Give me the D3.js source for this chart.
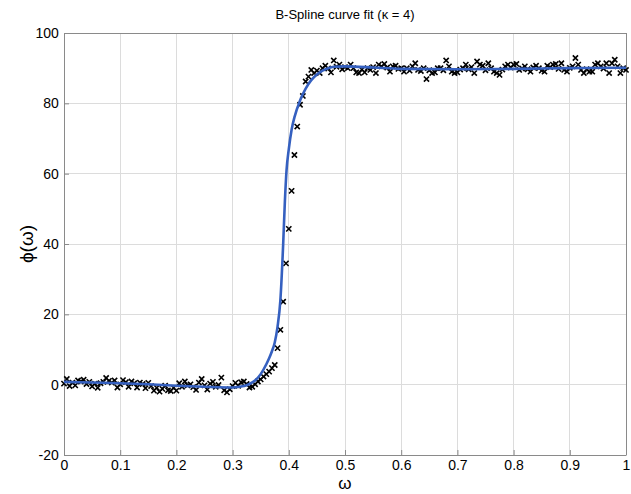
<!DOCTYPE html>
<html>
<head>
<meta charset="utf-8">
<script src="https://cdn.jsdelivr.net/npm/d3@7"></script>
<style>
  html, body { margin: 0; padding: 0; background: #fff; }
  svg { display: block; }
  text { font-family: "Liberation Sans", Arial, Helvetica, sans-serif; fill: #000; }
</style>
</head>
<body>
<svg id="chart" width="631" height="494"></svg>
<script>
// ---- data ----
const title = "B-Spline curve fit (\u03BA = 4)";
const xLabel = "\u03C9";
const yLabel = "\u03D5(\u03C9)";
const xTicks = [0, 0.1, 0.2, 0.3, 0.4, 0.5, 0.6, 0.7, 0.8, 0.9, 1];
const xTickLabels = ["0", "0.1", "0.2", "0.3", "0.4", "0.5", "0.6", "0.7", "0.8", "0.9", "1"];
const yTicks = [-20, 0, 20, 40, 60, 80, 100];
const yTickLabels = ["-20", "0", "20", "40", "60", "80", "100"];

const dataOmega = [
0.000,0.005,0.010,0.015,0.020,0.025,0.030,0.035,0.040,0.045,
0.050,0.055,0.060,0.065,0.070,0.075,0.080,0.085,0.090,0.095,
0.100,0.105,0.110,0.115,0.120,0.125,0.130,0.135,0.140,0.145,
0.150,0.155,0.160,0.165,0.170,0.175,0.180,0.185,0.190,0.195,
0.200,0.205,0.210,0.215,0.220,0.225,0.230,0.235,0.240,0.245,
0.250,0.255,0.260,0.265,0.270,0.275,0.280,0.285,0.290,0.295,
0.300,0.305,0.310,0.315,0.320,0.325,0.330,0.335,0.340,0.345,
0.350,0.355,0.360,0.365,0.370,0.375,0.380,0.385,0.390,0.395,
0.400,0.405,0.410,0.415,0.420,0.425,0.430,0.435,0.440,0.445,
0.450,0.455,0.460,0.465,0.470,0.475,0.480,0.485,0.490,0.495,
0.500,0.505,0.510,0.515,0.520,0.525,0.530,0.535,0.540,0.545,
0.550,0.555,0.560,0.565,0.570,0.575,0.580,0.585,0.590,0.595,
0.600,0.605,0.610,0.615,0.620,0.625,0.630,0.635,0.640,0.645,
0.650,0.655,0.660,0.665,0.670,0.675,0.680,0.685,0.690,0.695,
0.700,0.705,0.710,0.715,0.720,0.725,0.730,0.735,0.740,0.745,
0.750,0.755,0.760,0.765,0.770,0.775,0.780,0.785,0.790,0.795,
0.800,0.805,0.810,0.815,0.820,0.825,0.830,0.835,0.840,0.845,
0.850,0.855,0.860,0.865,0.870,0.875,0.880,0.885,0.890,0.895,
0.900,0.905,0.910,0.915,0.920,0.925,0.930,0.935,0.940,0.945,
0.950,0.955,0.960,0.965,0.970,0.975,0.980,0.985,0.990,0.995,
1.000];

const dataPhi = [
0.3,1.6,-0.4,0.6,-0.2,1.2,0.9,1.4,0.2,0.8,
-0.5,0.3,-0.9,0.4,0.8,1.9,1.1,0.6,1.2,-0.8,
0.1,1.3,0.7,-0.6,0.9,0.4,-0.8,0.6,0.2,-1.0,
0.5,-0.4,-1.7,-0.9,-2.0,-1.2,-0.3,-1.6,-1.8,-0.9,
-1.7,0.4,-0.6,0.9,-0.2,0.1,-0.7,-1.5,0.6,1.6,
-0.2,-1.4,0.3,0.8,-0.6,-0.1,2.0,-1.6,-2.2,-1.3,
-0.4,0.5,-0.3,0.7,0.9,0.2,-0.8,-0.6,0.1,0.9,
1.5,2.3,3.0,3.7,4.7,5.6,10.4,15.6,23.6,34.5,
44.3,55.1,65.3,73.4,79.6,82.1,86.2,87.6,89.5,88.6,
89.3,88.6,90.0,90.7,89.9,88.8,92.2,90.4,91.0,89.7,
90.3,90.0,91.0,90.0,88.8,88.6,89.6,88.8,90.0,89.5,
90.3,88.6,91.0,90.5,91.2,90.2,89.0,90.5,90.7,89.8,
90.0,89.0,90.0,89.3,90.5,91.4,89.5,89.2,90.0,86.9,
89.4,88.6,88.8,90.0,90.0,89.4,92.2,90.5,89.0,88.6,
88.8,89.6,90.0,91.0,89.7,90.3,88.6,91.9,91.0,90.7,
89.4,91.4,90.0,89.0,88.6,88.1,89.6,90.5,91.0,90.2,
91.0,91.2,89.5,89.9,90.5,89.7,89.0,90.2,90.7,90.0,
89.3,89.0,90.7,90.3,91.0,91.2,89.8,91.4,89.5,89.0,
90.1,90.5,92.9,91.0,89.5,88.6,89.7,89.0,89.0,91.0,
91.4,90.5,89.9,91.4,88.6,91.4,92.4,90.5,88.6,90.0,
89.5];

const curveOmega = [0, 0.05, 0.1, 0.15, 0.2, 0.25, 0.3, 0.32, 0.33, 0.34, 0.35, 0.36, 0.365, 0.37, 0.375, 0.38, 0.385, 0.39, 0.393, 0.396, 0.4, 0.405, 0.41, 0.42, 0.43, 0.44, 0.45, 0.46, 0.47, 0.48, 0.5, 0.55, 0.6, 0.7, 0.8, 0.9, 1.0];
const curvePhi   = [0.8, 0.6, 0.4, 0.1, -0.3, -0.6, -0.8, -0.4, 0.2, 1.2, 3.0, 5.8, 7.5, 9.5, 12.0, 16.5, 24.0, 40.0, 52.0, 61.0, 67.0, 72.5, 76.0, 80.8, 84.2, 86.6, 88.2, 89.3, 90.0, 90.4, 90.5, 90.2, 89.8, 89.7, 89.8, 90.0, 90.1];

// ---- layout ----
const W = 631, H = 494;
const plot = { left: 64, right: 626, top: 33, bottom: 455 };

const svg = d3.select("#chart");
svg.append("rect").attr("width", W).attr("height", H).attr("fill", "#fff");

const x = d3.scaleLinear().domain([0, 1]).range([plot.left, plot.right]);
const y = d3.scaleLinear().domain([-20, 100]).range([plot.bottom, plot.top]);

// grid
const grid = svg.append("g");
grid.selectAll("line.gx").data(xTicks).enter().append("line")
  .attr("x1", d => x(d)).attr("x2", d => x(d))
  .attr("y1", plot.top).attr("y2", plot.bottom)
  .attr("stroke", "#dcdcdc").attr("stroke-width", 1).attr("shape-rendering", "crispEdges");
grid.selectAll("line.gy").data(yTicks).enter().append("line")
  .attr("x1", plot.left).attr("x2", plot.right)
  .attr("y1", d => y(d)).attr("y2", d => y(d))
  .attr("stroke", "#dcdcdc").attr("stroke-width", 1).attr("shape-rendering", "crispEdges");

// axes
const axisColor = "#8a8a8a";
const xAxis = d3.axisBottom(x).tickValues(xTicks)
  .tickFormat((d, i) => xTickLabels[i]).tickSizeInner(-5).tickSizeOuter(0).tickPadding(5);
const yAxis = d3.axisLeft(y).tickValues(yTicks)
  .tickFormat((d, i) => yTickLabels[i]).tickSizeInner(-5).tickSizeOuter(0).tickPadding(8);

const gx = svg.append("g").attr("transform", `translate(0,${plot.bottom})`).call(xAxis);
const gy = svg.append("g").attr("transform", `translate(${plot.left},0)`).call(yAxis);
[gx, gy].forEach(g => {
  g.select(".domain").attr("stroke", axisColor);
  g.selectAll(".tick line").attr("stroke", axisColor);
  g.selectAll(".tick text").attr("font-size", 14).attr("fill", "#000")
    .attr("font-family", "'Liberation Sans', Arial, sans-serif");
});
gy.selectAll(".tick text").attr("dx", "0.2em");

// box (top and right)
svg.append("line").attr("x1", plot.left).attr("x2", plot.right).attr("y1", plot.top).attr("y2", plot.top)
  .attr("stroke", axisColor).attr("shape-rendering", "crispEdges");
svg.append("line").attr("x1", plot.right).attr("x2", plot.right).attr("y1", plot.top).attr("y2", plot.bottom)
  .attr("stroke", axisColor).attr("shape-rendering", "crispEdges");

// data markers (x)
const pts = dataOmega.map((w, i) => [w, dataPhi[i]]);
const s = 2.6;
svg.append("g").selectAll("path").data(pts).enter().append("path")
  .attr("d", d => {
    const cx = x(d[0]), cy = y(d[1]);
    return `M${cx - s},${cy - s}L${cx + s},${cy + s}M${cx - s},${cy + s}L${cx + s},${cy - s}`;
  })
  .attr("stroke", "#000").attr("stroke-width", 1.6).attr("fill", "none");

// fitted curve
const curvePts = curveOmega.map((w, i) => [w, curvePhi[i]]);
svg.append("path").datum(curvePts)
  .attr("d", d3.line().x(d => x(d[0])).y(d => y(d[1])).curve(d3.curveMonotoneX))
  .attr("fill", "none").attr("stroke", "#3560c0").attr("stroke-width", 2.6)
  .attr("stroke-linejoin", "round");

// titles
svg.append("text").attr("x", (plot.left + plot.right) / 2).attr("y", 19)
  .attr("text-anchor", "middle").attr("font-size", 13).text(title);
svg.append("text").attr("x", (plot.left + plot.right) / 2).attr("y", 489)
  .attr("text-anchor", "middle").attr("font-size", 17).text(xLabel);
svg.append("text").attr("transform", `translate(33,${(plot.top + plot.bottom) / 2}) rotate(-90)`)
  .attr("text-anchor", "middle").attr("font-size", 19).text(yLabel);
</script>
</body>
</html>
